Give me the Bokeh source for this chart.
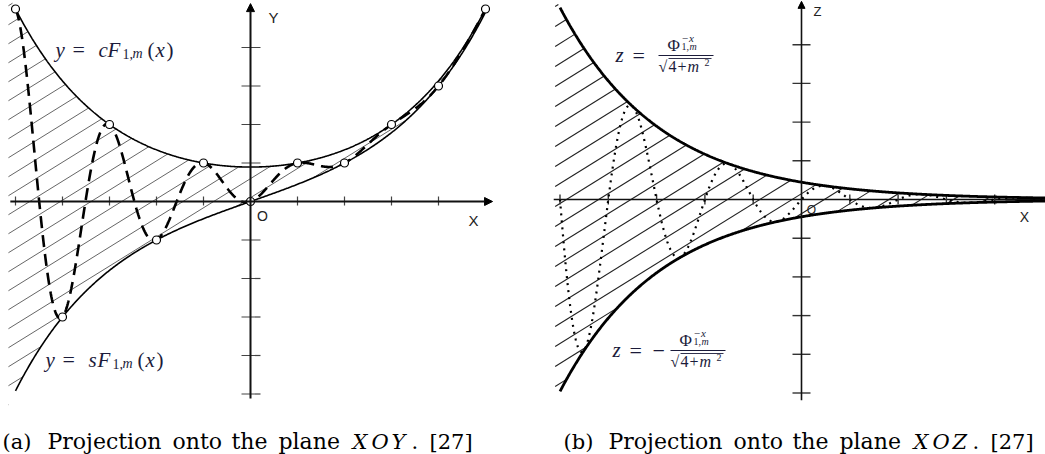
import numpy as np
from bokeh.plotting import figure
from bokeh.layouts import row
from bokeh.models import Range1d, Arrow, NormalHead
from bokeh.core.properties import value
from bokeh.embed import file_html
from bokeh.resources import INLINE

# m-Fibonacci family, m = 1 (golden ratio)
m = 1.0
root = np.sqrt(4 + m ** 2)
phi = (m + root) / 2

# integer nodes F_m(n), n = -5..5
node_x = [-5, -4, -3, -2, -1, 0, 1, 2, 3, 4, 5]
node_y = [5, -3, 2, -1, 1, 0, 1, 1, 2, 3, 5]

# axis ticks
left_xticks = [-5, -4, -3, -2, -1, 1, 2, 3, 4]
left_yticks = [-5, -4, -3, -2, -1, 1, 2, 3, 4]
right_xticks = [-5, -4, -3, -2, -1, 1, 2, 3, 4]
right_zticks = [-5, -4, -3, -2, -1, 1, 2, 3, 4]

caption_a = ["(a)", "Projection", "onto", "the", "plane", "X", "O", "Y", ".", "[27]"]
caption_b = ["(b)", "Projection", "onto", "the", "plane", "X", "O", "Z", ".", "[27]"]

H = 454
MATH = "#1b1b3a"
LIFT = 6  # baseline correction for svg text placement


def cF(x):
    return (phi ** x + phi ** (-x)) / root


def sF(x):
    return (phi ** x - phi ** (-x)) / root


def F(x):
    return (phi ** x - np.cos(np.pi * x) * phi ** (-x)) / root


def zc(x):
    return phi ** (-x) / root


def make_panel(width, left_px, ox, oy, ux, uy):
    x0 = (left_px - ox) / ux
    x1 = (left_px + width - ox) / ux
    y0 = (oy - H) / uy
    y1 = oy / uy
    p = figure(width=width, height=H, x_range=Range1d(x0, x1), y_range=Range1d(y0, y1),
               output_backend="svg", toolbar_location=None, min_border=0,
               x_axis_location=None, y_axis_location=None)
    p.xgrid.visible = False
    p.ygrid.visible = False
    p.outline_line_color = None
    p.background_fill_color = "white"
    p.border_fill_color = "white"

    def P(px, py):
        return (px - ox) / ux, (oy - py) / uy
    return p, P


def hatch(lower, upper, xa, xb, slope, spacing, offset):
    g = np.linspace(xa, xb, 6000)
    lo, hi = lower(g), upper(g)
    cmin = (lo - slope * g).min()
    cmax = (hi - slope * g).max()
    k0 = int(np.floor((cmin - offset) / spacing))
    k1 = int(np.ceil((cmax - offset) / spacing))
    xs, ys = [], []
    for k in range(k0, k1 + 1):
        c = offset + k * spacing
        yl = slope * g + c
        inside = ((yl >= lo) & (yl <= hi)).astype(int)
        edges = np.flatnonzero(np.diff(np.concatenate([[0], inside, [0]])))
        for a, b in zip(edges[::2], edges[1::2]):
            if b - 1 <= a:
                continue
            xa_, xb_ = g[a], g[b - 1]
            xs.append([xa_, xb_])
            ys.append([slope * xa_ + c, slope * xb_ + c])
    return xs, ys


def put(p, P, px, py, txt, size, italic=False, font="Liberation Serif", color=MATH, align="left"):
    x, y = P(px, py - LIFT)
    p.text(x=[x], y=[y], text=[txt], text_font=value(font), text_font_size=f"{size}px",
           text_font_style="italic" if italic else "normal", text_color=color,
           text_align=align, text_baseline="alphabetic")


def caption(p, P, x0, parts):
    base = 447
    f = "DejaVu Serif"
    offs = [0, 45, 170, 229, 276, 350, 369, 389, 409, 427]
    for i, (t, dx) in enumerate(zip(parts, offs)):
        italic = i in (5, 6, 7)
        put(p, P, x0 + dx, base, t, 22 if 1 <= i <= 4 else 21, italic=italic, font=f, color="black")


# ---------------- left panel: XOY ----------------
UXL, UYL = 47.0, 38.5
pl, PL = make_panel(522, 0, 250, 201, UXL, UYL)

hx, hy = hatch(sF, cF, -5.15, 5.0, 0.62 * UXL / UYL, 19 / UYL, 0.1)
pl.multi_line(hx, hy, line_color="#555555", line_width=0.9)

# axes
pl.add_layout(Arrow(end=NormalHead(size=8, fill_color="black", line_color="black"),
                    x_start=-5.11, y_start=0, x_end=5.15, y_end=0,
                    line_width=2, line_color="#111111"))
pl.add_layout(Arrow(end=NormalHead(size=8, fill_color="black", line_color="black"),
                    x_start=0, y_start=-5.12, x_end=0, y_end=5.14,
                    line_width=2, line_color="#111111"))
pl.segment(x0=left_xticks, y0=[-4 / UYL] * len(left_xticks),
           x1=left_xticks, y1=[5 / UYL] * len(left_xticks), line_color="#444444", line_width=1.2)
pl.segment(x0=[-9 / UXL] * len(left_yticks), y0=left_yticks,
           x1=[10 / UXL] * len(left_yticks), y1=left_yticks, line_color="#444444", line_width=1.2)

xs = np.linspace(-5, 5, 801)
pl.line(xs, cF(xs), line_color="black", line_width=1.6)
pl.line(xs, sF(xs), line_color="black", line_width=1.6)
pl.line(xs, F(xs), line_color="black", line_width=2.6, line_dash="12 7")
pl.scatter(node_x, node_y, size=8, marker="circle", fill_color="white",
           line_color="black", line_width=1.2)

put(pl, PL, 273, 23, "Y", 15, font="Liberation Sans", color="#222222", align="center")
put(pl, PL, 262, 221, "O", 14, font="Liberation Sans", color="#222222", align="center")
put(pl, PL, 473, 226, "X", 15, font="Liberation Sans", color="#222222", align="center")


def fib_label(p, P, x0, base, letter):
    put(p, P, x0, base, "y", 21, italic=True)
    put(p, P, x0 + 17, base, "=", 22)
    put(p, P, x0 + 43, base, letter, 21, italic=True)
    put(p, P, x0 + 52, base, "F", 21, italic=True)
    put(p, P, x0 + 67, base + 4, "1,", 14)
    put(p, P, x0 + 77, base + 4, "m", 14, italic=True)
    put(p, P, x0 + 92, base, "(", 21)
    put(p, P, x0 + 100, base, "x", 21, italic=True)
    put(p, P, x0 + 111, base, ")", 21)


fib_label(pl, PL, 55, 55, "c")
fib_label(pl, PL, 45, 365, "s")
caption(pl, PL, 2, caption_a)

# ---------------- right panel: XOZ ----------------
UXR, UYR = 48.3, 38.7
pr, PR = make_panel(523, 522, 801, 199, UXR, UYR)

hx, hy = hatch(lambda x: -zc(x), zc, -5.1, 5.1, 0.62 * UXR / UYR, 20 / UYR, 0.15)
pr.multi_line(hx, hy, line_color="#222222", line_width=1.1)

pr.segment(x0=[-5.13], y0=[0], x1=[5.1], y1=[0], line_color="#111111", line_width=1.6)
pr.add_layout(Arrow(end=NormalHead(size=7, fill_color="black", line_color="black"),
                    x_start=0, y_start=-5.19, x_end=0, y_end=5.12,
                    line_width=1.6, line_color="#111111"))
pr.segment(x0=right_xticks, y0=[-5 / UYR] * len(right_xticks),
           x1=right_xticks, y1=[5 / UYR] * len(right_xticks), line_color="#333333", line_width=1.4)
pr.segment(x0=[-9 / UXR] * len(right_zticks), y0=right_zticks,
           x1=[9 / UXR] * len(right_zticks), y1=right_zticks, line_color="#333333", line_width=1.4)

xr = np.linspace(-5, 5.1, 801)
pr.line(xr, zc(xr), line_color="black", line_width=2.8)
pr.line(xr, -zc(xr), line_color="black", line_width=2.8)
pr.line(xr, np.sin(np.pi * xr) * zc(xr), line_color="black", line_width=2.2, line_dash="2 5")

put(pr, PR, 817, 17, "Z", 13, font="Liberation Sans", color="#222222", align="center")
put(pr, PR, 811, 215, "O", 12, font="Liberation Sans", color="#222222", align="center")
put(pr, PR, 1024, 222, "X", 14, font="Liberation Sans", color="#222222", align="center")


def exp_label(p, P, x0, bar, neg):
    put(p, P, x0, bar + 5, "z", 21, italic=True)
    put(p, P, x0 + 17, bar + 6, "=", 22)
    fx = x0 + 43
    if neg:
        put(p, P, x0 + 40, bar + 6, "\u2212", 22)
        fx = x0 + 58
    bx0, by = P(fx, bar)
    bx1, _ = P(fx + 55, bar)
    p.segment(x0=[bx0], y0=[by], x1=[bx1], y1=[by], line_color=MATH, line_width=1)
    put(p, P, fx + 9, bar - 4, "\u03a6", 17)
    put(p, P, fx + 23, bar - 12, "\u2212x", 11, italic=True)
    put(p, P, fx + 23, bar - 3, "1,", 10)
    put(p, P, fx + 31, bar - 3, "m", 10, italic=True)
    put(p, P, fx + 0, bar + 17, "\u221a", 16)
    ox0, oy = P(fx + 10, bar + 3)
    ox1, _ = P(fx + 53, bar + 3)
    p.segment(x0=[ox0], y0=[oy], x1=[ox1], y1=[oy], line_color=MATH, line_width=0.9)
    put(p, P, fx + 10, bar + 17, "4", 16)
    put(p, P, fx + 19, bar + 17, "+", 16)
    put(p, P, fx + 29, bar + 17, "m", 16, italic=True)
    put(p, P, fx + 46, bar + 13, "2", 10)


exp_label(pr, PR, 615, 55, False)
exp_label(pr, PR, 612, 350, True)
caption(pr, PR, 563, caption_b)

layout = row(pl, pr, spacing=0)
open("out.html", "w").write(file_html(layout, INLINE))
